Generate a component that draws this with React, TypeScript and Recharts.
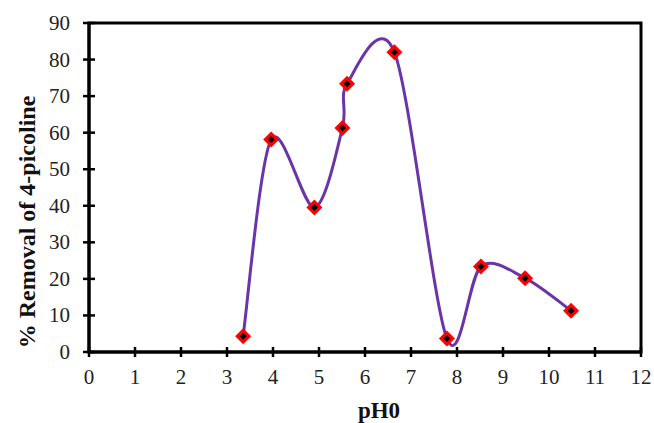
import React from 'react';
import { LineChart, Line, XAxis, YAxis, ReferenceArea } from 'recharts';

const PH_VALUES = [3.35, 3.96, 4.9, 5.51, 5.61, 6.64, 7.78, 8.52, 9.48, 10.48];
const REMOVAL = [4.3, 58.1, 39.5, 61.3, 73.4, 82.0, 3.7, 23.4, 20.2, 11.3];
const X_TICKS = [0, 1, 2, 3, 4, 5, 6, 7, 8, 9, 10, 11, 12];
const Y_TICKS = [0, 10, 20, 30, 40, 50, 60, 70, 80, 90];

const LINE_COLOR = '#6a35a8';
const FONT = '"Liberation Serif", "Times New Roman", serif';

const data = PH_VALUES.map((ph, i) => ({ ph, removal: REMOVAL[i] }));

// excel-like smoothed line (catmull-rom as bezier)
const smoothCurve = (context: any) => {
  let pts: number[][] = [];
  const k = 6.4;
  return {
    areaStart() {},
    areaEnd() {},
    lineStart() {
      pts = [];
    },
    point(x: number, y: number) {
      pts.push([+x, +y]);
    },
    lineEnd() {
      if (!pts.length) return;
      context.moveTo(pts[0][0], pts[0][1]);
      for (let i = 0; i < pts.length - 1; i++) {
        const p0 = pts[i - 1] || pts[i];
        const p1 = pts[i];
        const p2 = pts[i + 1];
        const p3 = pts[i + 2] || p2;
        context.bezierCurveTo(
          p1[0] + (p2[0] - p0[0]) / k,
          p1[1] + (p2[1] - p0[1]) / k,
          p2[0] - (p3[0] - p1[0]) / k,
          p2[1] - (p3[1] - p1[1]) / k,
          p2[0],
          p2[1]
        );
      }
    },
  };
};

const Marker = (props: any) => {
  const { cx, cy } = props;
  if (cx == null || cy == null) return null;
  return (
    <g>
      <polygon
        points={`${cx},${cy - 8} ${cx + 8},${cy} ${cx},${cy + 8} ${cx - 8},${cy}`}
        fill="#ff0000"
      />
      <polygon
        points={`${cx},${cy - 3.5} ${cx + 3.5},${cy} ${cx},${cy + 3.5} ${cx - 3.5},${cy}`}
        fill="#000"
      />
    </g>
  );
};

const XTick = ({ x, y, payload }: any) => (
  <g>
    <line x1={x} x2={x} y1={y - 5} y2={y + 5} stroke="#000" strokeWidth={2.5} />
    <text x={x} y={y + 32} textAnchor="middle" fontFamily={FONT} fontSize={21} fill="#222">
      {payload.value}
    </text>
  </g>
);

const YTick = ({ x, y, payload }: any) => (
  <g>
    <line x1={x - 6} x2={x + 6} y1={y} y2={y} stroke="#000" strokeWidth={2.5} />
    <text x={x - 19} y={y + 7} textAnchor="end" fontFamily={FONT} fontSize={21} fill="#222">
      {payload.value}
    </text>
  </g>
);

export default function App() {
  return (
    <div style={{ position: 'absolute', left: 0, top: 0, background: '#fff' }}>
      <LineChart
        width={654}
        height={423}
        data={data}
        margin={{ top: 23, right: 13, bottom: 70, left: 29 }}
      >
        <XAxis
          dataKey="ph"
          type="number"
          domain={[0, 12]}
          ticks={X_TICKS}
          interval={0}
          height={1}
          tickSize={0}
          tickMargin={0}
          tickLine={false}
          axisLine={{ stroke: '#000', strokeWidth: 3 }}
          tick={<XTick />}
          label={{
            content: () => (
              <text x={379} y={418} textAnchor="middle" fontFamily={FONT} fontSize={23} fontWeight={700} fill="#111">
                pH0
              </text>
            ),
          }}
        />
        <YAxis
          type="number"
          domain={[0, 90]}
          ticks={Y_TICKS}
          interval={0}
          width={60}
          tickSize={0}
          tickMargin={0}
          tickLine={false}
          axisLine={{ stroke: '#000', strokeWidth: 3 }}
          tick={<YTick />}
          label={{
            content: () => (
              <text
                x={0}
                y={0}
                transform="translate(35,222) rotate(-90)"
                textAnchor="middle"
                fontFamily={FONT}
                fontSize={24}
                fontWeight={700}
                fill="#111"
              >
                % Removal of 4-picoline
              </text>
            ),
          }}
        />
        <ReferenceArea x1={0} x2={12} y1={0} y2={90} fill="none" stroke="#000" strokeWidth={3} />
        <Line
          dataKey="removal"
          type={smoothCurve as any}
          stroke={LINE_COLOR}
          strokeWidth={3}
          dot={<Marker />}
          activeDot={false}
          isAnimationActive={false}
        />
      </LineChart>
    </div>
  );
}
